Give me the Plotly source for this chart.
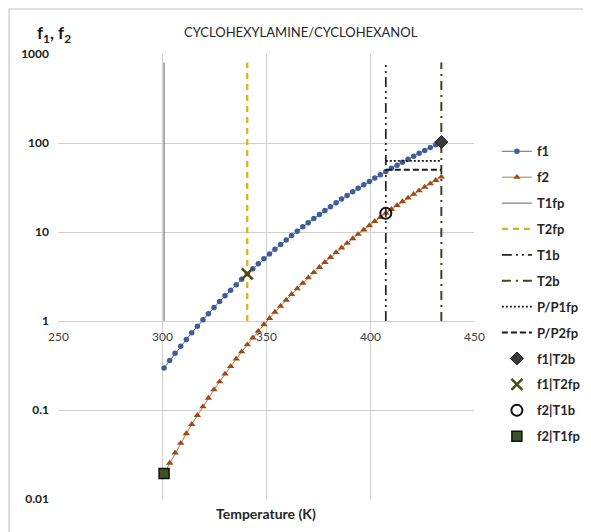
import plotly.graph_objects as go

# temperatures of the f1 / f2 series [K]
temp = [301.0, 303.7, 306.3, 309.0, 311.7, 314.3, 317.0, 319.7, 322.3, 325.0,
        327.7, 330.3, 333.0, 335.7, 338.3, 341.0, 343.7, 346.3, 349.0, 351.7,
        354.3, 357.0, 359.7, 362.3, 365.0, 367.7, 370.3, 373.0, 375.7, 378.3,
        381.0, 383.7, 386.3, 389.0, 391.7, 394.3, 397.0, 399.7, 402.3, 405.0,
        407.6, 410.3, 413.0, 415.6, 418.3, 421.0, 423.6, 426.3, 429.0, 431.6,
        434.3]

f1 = [0.296, 0.359, 0.433, 0.520, 0.620, 0.738, 0.874, 1.030, 1.210, 1.416,
      1.651, 1.918, 2.220, 2.562, 2.946, 3.378, 3.862, 4.400, 5.004, 5.671,
      6.413, 7.234, 8.136, 9.131, 10.22, 11.42, 12.73, 14.16, 15.72, 17.41,
      19.26, 21.25, 23.41, 25.75, 28.25, 30.97, 33.88, 37.01, 40.36, 43.95,
      47.78, 51.88, 56.25, 60.91, 65.86, 71.12, 76.74, 82.62, 88.92, 95.54,
      102.6]

f2 = [0.0193, 0.0253, 0.0329, 0.0424, 0.0543, 0.0690, 0.0871, 0.109, 0.136, 0.169,
      0.208, 0.254, 0.309, 0.375, 0.452, 0.542, 0.647, 0.769, 0.911, 1.073,
      1.260, 1.474, 1.718, 1.995, 2.308, 2.663, 3.063, 3.510, 4.011, 4.569,
      5.193, 5.885, 6.651, 7.497, 8.431, 9.458, 10.59, 11.82, 13.18, 14.64,
      16.25, 18.00, 19.90, 21.95, 24.16, 26.57, 29.16, 31.94, 34.94, 38.14,
      41.59]

# characteristic temperatures [K]
T1fp = 301.0
T2fp = 341.0
T1b = 407.6
T2b = 434.3

# pressure ratios
PP1fp = 63.0
PP2fp = 50.0

# vertical reference lines span
vline_y = [1, 800]

# special points
f1_T2b = 102.6
f1_T2fp = 3.378
f2_T1b = 16.25
f2_T1fp = 0.0193

x_ticks = [250, 300, 350, 400, 450]
y_ticks = [0.01, 0.1, 1, 10, 100, 1000]
y_ticktext = ["0.01", "0.1", "1", "10", "100", "1000"]

FONT = "Lato"

fig = go.Figure()

fig.add_trace(go.Scatter(
    x=temp, y=f1, name="f1", mode="lines+markers",
    line=dict(color="#4a6aa8", width=1),
    marker=dict(symbol="circle", size=5.5, color="#3e5d99"),
))
fig.add_trace(go.Scatter(
    x=temp, y=f2, name="f2", mode="lines+markers",
    line=dict(color="#b9773f", width=1),
    marker=dict(symbol="triangle-up", size=6.5, color="#9a4b16"),
))
fig.add_trace(go.Scatter(
    x=[T1fp, T1fp], y=vline_y, name="T1fp", mode="lines",
    line=dict(color="#808080", width=1.25),
))
fig.add_trace(go.Scatter(
    x=[T2fp, T2fp], y=vline_y, name="T2fp", mode="lines",
    line=dict(color="#d4b418", width=2.25, dash="6px,5px"),
))
fig.add_trace(go.Scatter(
    x=[T1b, T1b], y=vline_y, name="T1b", mode="lines",
    line=dict(color="#262626", width=1.75, dash="10px,4px,2px,4px,2px,4px"),
))
fig.add_trace(go.Scatter(
    x=[T2b, T2b], y=vline_y, name="T2b", mode="lines",
    line=dict(color="#3c4623", width=2, dash="9px,5px,2px,5px"),
))
fig.add_trace(go.Scatter(
    x=[T1b, T2b], y=[PP1fp, PP1fp], name="P/P1fp", mode="lines",
    line=dict(color="#1a1a1a", width=1.75, dash="2px,2px"),
))
fig.add_trace(go.Scatter(
    x=[T1b, T2b], y=[PP2fp, PP2fp], name="P/P2fp", mode="lines",
    line=dict(color="#1a1a1a", width=2, dash="6px,3px"),
))
fig.add_trace(go.Scatter(
    x=[T2b], y=[f1_T2b], name="f1|T2b", mode="markers",
    marker=dict(symbol="diamond", size=10, color="#3a3a3a",
                line=dict(color="#1a1a1a", width=1)),
))
fig.add_trace(go.Scatter(
    x=[T2fp], y=[f1_T2fp], name="f1|T2fp", mode="markers",
    marker=dict(symbol="x-thin-open", size=11, color="#4d4d12",
                line=dict(color="#4d4d12", width=2.5)),
))
fig.add_trace(go.Scatter(
    x=[T1b], y=[f2_T1b], name="f2|T1b", mode="markers",
    marker=dict(symbol="circle-open", size=11, color="#111111",
                line=dict(color="#111111", width=2)),
))
fig.add_trace(go.Scatter(
    x=[T1fp], y=[f2_T1fp], name="f2|T1fp", mode="markers",
    marker=dict(symbol="square", size=10, color="#3a5523",
                line=dict(color="#111111", width=1.5)),
))

# one legend group per trace so tracegroupgap spaces the items
for i, tr in enumerate(fig.data):
    tr.legendgroup = f"g{i}"

# x tick labels sit on the y = 1 line (Excel style axis crossing)
for t in x_ticks:
    fig.add_annotation(
        x=t, y=0, xref="x", yref="y", text=str(t), showarrow=False,
        yanchor="top", yshift=-6,
        font=dict(family=FONT, size=12, color="#404040"),
    )

fig.add_annotation(
    x=0.5, y=0, xref="paper", yref="paper", text="Temperature (K)",
    showarrow=False, yanchor="middle", yshift=-14,
    font=dict(family=FONT, size=14, color="#262626", weight="bold"),
)
fig.add_annotation(
    x=0.584, y=1.05, xref="paper", yref="paper", text="CYCLOHEXYLAMINE/CYCLOHEXANOL",
    showarrow=False, yanchor="middle",
    font=dict(family=FONT, size=13, color="#262626"),
)
fig.add_annotation(
    x=-0.0553, y=1.044, xref="paper", yref="paper", text="f<sub>1</sub>, f<sub>2</sub>",
    showarrow=False, xanchor="left", yanchor="middle",
    font=dict(family=FONT, size=17, color="#1a1a1a", weight="bold"),
)

# chart area border (page has an 8px body margin, figure starts there)
fig.add_shape(
    type="rect", xref="paper", yref="paper",
    x0=-0.1178, x1=1.35, y0=-0.15, y1=1.101,
    line=dict(color="#d4d4d4", width=1.5), layer="below",
)

fig.update_layout(
    width=583, height=524,
    margin=dict(l=50, r=117, t=46, b=33, autoexpand=False),
    plot_bgcolor="white", paper_bgcolor="white",
    font=dict(family=FONT, color="#262626"),
    showlegend=True,
    legend=dict(
        x=1.055, xanchor="left", y=0.815, yanchor="top",
        font=dict(family=FONT, size=13, color="#262626", weight="bold"),
        tracegroupgap=6, bgcolor="rgba(0,0,0,0)",
    ),
    xaxis=dict(
        range=[250, 450], tickvals=x_ticks, showticklabels=False,
        showgrid=True, gridcolor="#d0d0d0", gridwidth=1,
        zeroline=False, showline=False, ticks="",
    ),
    yaxis=dict(
        type="log", range=[-2, 3], tickvals=y_ticks, ticktext=y_ticktext,
        showgrid=True, gridcolor="#d0d0d0", gridwidth=1,
        zeroline=False, showline=False, ticks="", ticklabelstandoff=8,
        tickfont=dict(family=FONT, size=12, color="#1a1a1a", weight="bold"),
    ),
)

fig.write_html("out.html")
